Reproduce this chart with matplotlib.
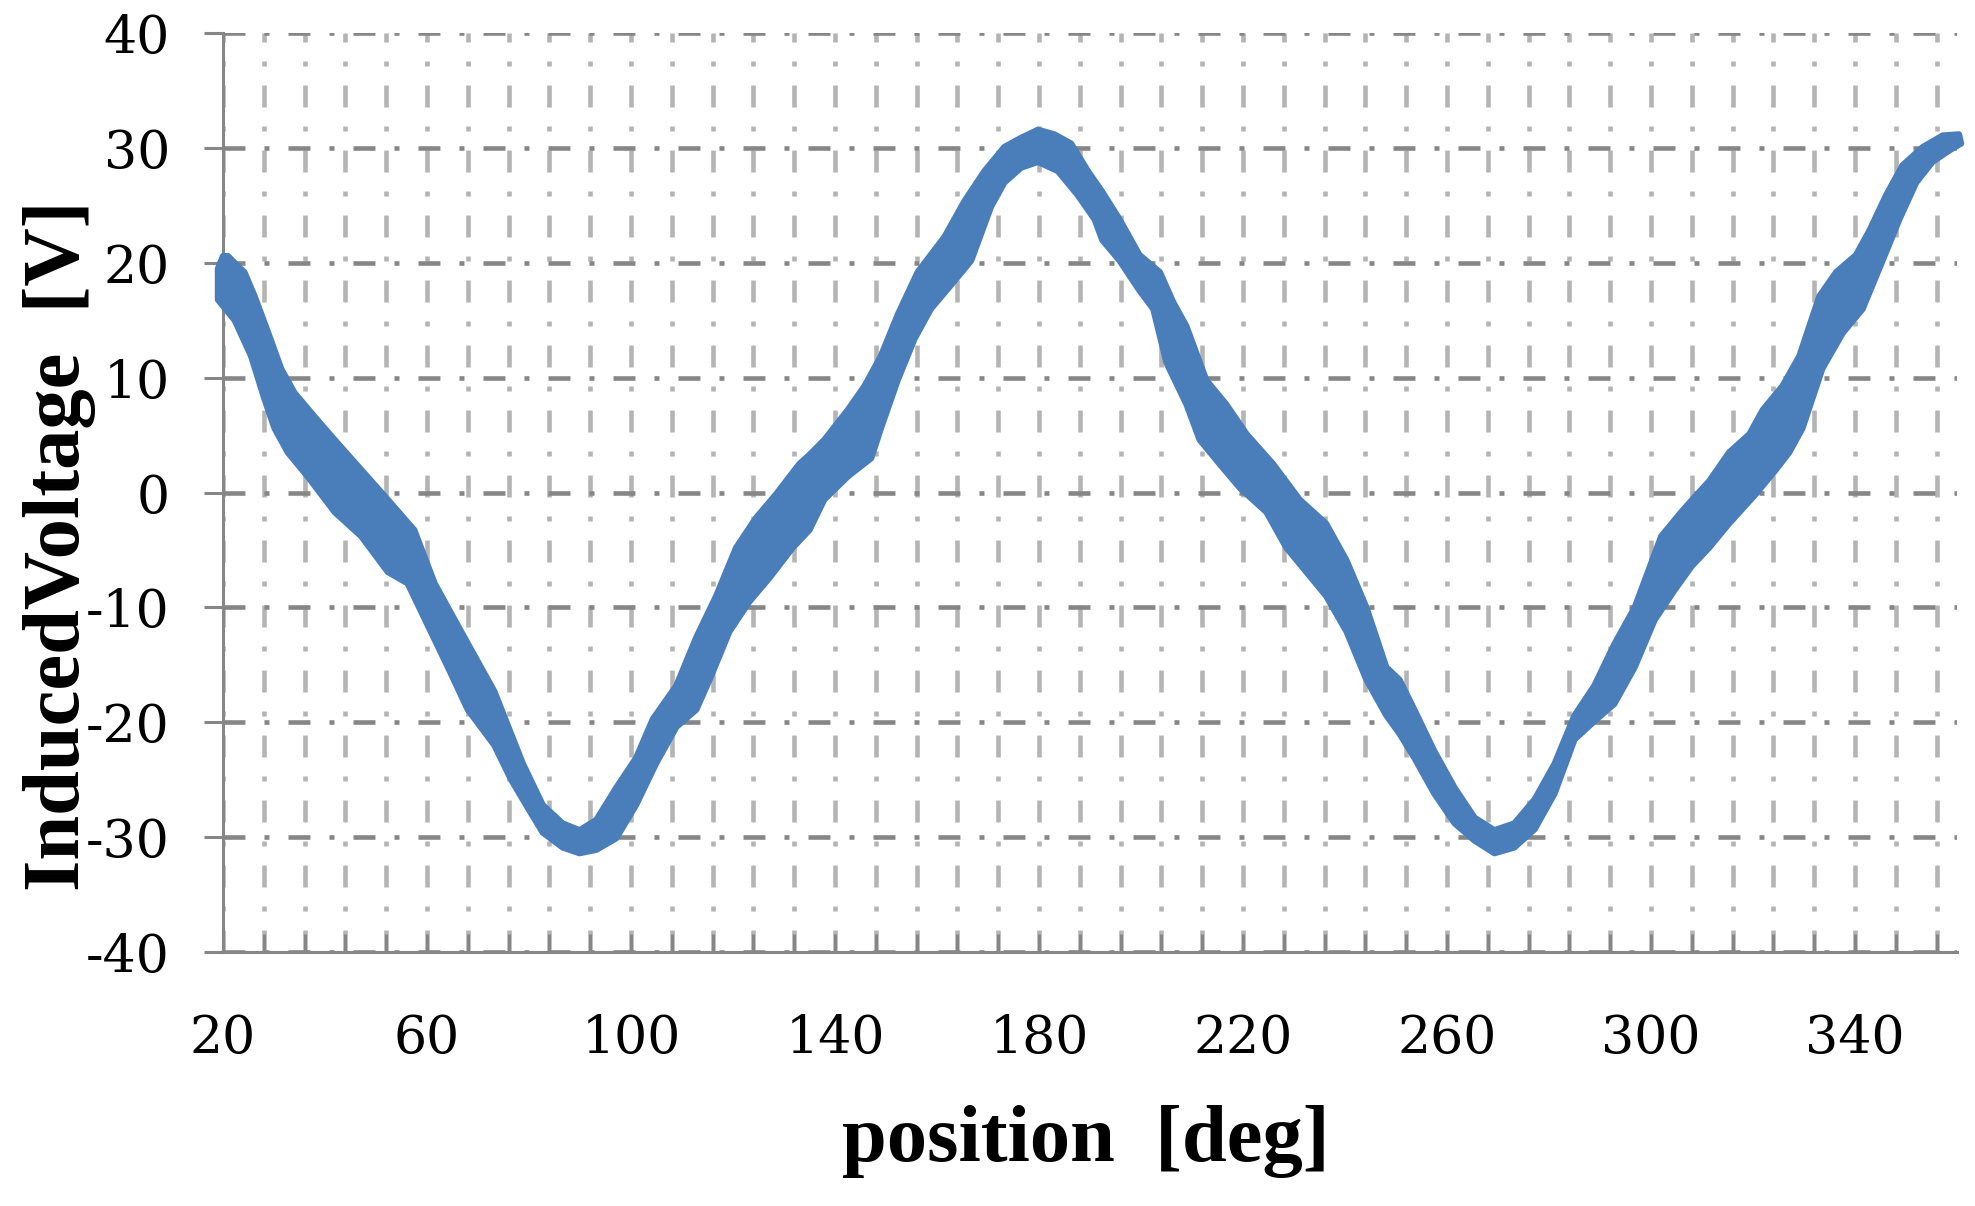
import matplotlib
matplotlib.use("Agg")
import matplotlib.pyplot as plt
from matplotlib.ticker import MultipleLocator

upper_x = [19.0, 20.0, 21.0, 22.5, 24.2, 26.2, 28.8, 31.4, 34.0, 37.9, 41.9, 47.1, 52.3,
           57.5, 61.5, 66.7, 73.2, 78.8, 82.7, 86.6, 89.9, 93.2, 97.1, 101.0, 104.3,
           108.9, 112.8, 116.7, 120.6, 124.5, 128.5, 133.0, 135.0, 137.9, 142.5, 145.8,
           149.0, 152.3, 156.2, 161.5, 165.4, 169.3, 173.2, 176.5, 179.8, 183.0, 186.3,
           189.6, 192.4, 195.8, 199.7, 203.7, 206.3, 208.9, 212.8, 216.7, 220.7, 225.9,
           231.1, 236.3, 240.3, 244.2, 248.1, 250.7, 253.6, 257.5, 261.5, 265.4, 269.3,
           273.2, 277.2, 281.1, 285.0, 288.9, 292.8, 296.8, 299.4, 302.0, 305.9, 308.5,
           311.4, 315.3, 319.3, 321.9, 325.8, 329.1, 333.0, 336.3, 340.2, 342.8, 346.1,
           349.3, 353.3, 357.2, 360.4]
upper_y = [19.5, 20.6, 20.6, 19.9, 19.2, 17.1, 14.0, 10.8, 8.7, 6.65, 4.6, 2.0, -0.6,
           -3.25, -7.9, -12.1, -17.3, -23.6, -27.2, -28.8, -29.4, -28.5, -25.7, -23.1, -19.7,
           -16.8, -12.6, -9.0, -4.8, -2.2, -0.1, 2.5, 3.3, 4.6, 7.2, 9.3,
           11.9, 15.5, 19.2, 22.3, 25.4, 28.0, 30.1, 30.9, 31.6, 31.2, 30.4,
           28.0, 26.2, 23.8, 20.7, 19.2, 16.6, 14.5, 9.8, 7.7, 5.1, 2.5,
           -0.6, -2.7, -5.9, -10.0, -15.2, -16.3, -18.9, -22.5, -25.7, -28.3, -29.4,
           -28.8, -26.7, -23.6, -19.4, -16.8, -13.2, -10.0, -6.9, -3.8, -1.7, -0.4,
           1.0, 3.5, 5.1, 7.2, 9.3, 11.9, 17.1, 19.2, 20.7, 22.8, 25.9,
           28.5, 30.1, 31.1, 31.2]

lower_x = [19.0, 22.3, 25.5, 28.1, 30.1, 32.7, 36.6, 41.9, 47.1, 52.3, 56.2, 60.2, 64.1,
           68.0, 73.2, 76.5, 80.1, 82.7, 86.6, 89.9, 93.2, 97.1, 101.0, 104.9, 108.9,
           112.8, 115.4, 119.3, 123.2, 127.2, 131.7, 135.0, 137.9, 142.5, 147.1, 149.0,
           152.3, 155.6, 158.8, 162.8, 166.7, 170.6, 173.2, 176.5, 179.8, 183.7, 187.6,
           190.9, 192.4, 195.8, 199.7, 202.4, 205.0, 208.9, 211.5, 215.4, 219.4, 224.6,
           228.5, 232.4, 236.3, 240.3, 244.2, 248.1, 250.7, 253.6, 257.5, 261.5, 265.4,
           269.3, 273.2, 277.2, 281.1, 285.0, 288.9, 292.8, 296.8, 300.7, 304.6, 308.0,
           311.4, 315.3, 320.6, 324.5, 327.1, 329.7, 333.6, 337.6, 341.5, 345.4, 348.7,
           352.0, 355.2, 358.5, 360.8]
lower_y = [16.8, 15.0, 11.9, 8.2, 5.6, 3.5, 1.4, -1.7, -3.8, -6.9, -7.9, -11.6, -15.2,
           -18.9, -22.0, -25.0, -27.7, -29.6, -30.9, -31.4, -31.1, -30.1, -27.2, -23.6, -20.4,
           -18.9, -16.3, -12.1, -9.5, -7.4, -4.8, -3.25, -0.6, 1.4, 3.0, 5.6,
           9.8, 13.4, 16.0, 18.1, 20.2, 24.9, 27.0, 28.3, 28.8, 28.0, 25.9,
           23.8, 22.0, 20.2, 17.6, 16.0, 11.3, 7.7, 4.6, 2.5, 0.4, -1.7,
           -4.8, -6.9, -9.0, -12.1, -16.3, -19.4, -21.0, -23.1, -26.2, -28.8, -30.3,
           -31.4, -30.9, -29.3, -26.2, -21.5, -19.9, -18.4, -15.2, -11.1, -8.5, -6.4,
           -4.8, -2.7, -0.1, 2.0, 3.5, 5.6, 10.8, 13.9, 16.0, 20.2, 23.8,
           27.0, 28.8, 29.8, 30.4]

x_ticks = [20, 60, 100, 140, 180, 220, 260, 300, 340]
y_ticks = [-40, -30, -20, -10, 0, 10, 20, 30, 40]
x_label = "position  [deg]"
y_label = "InducedVoltage  [V]"

# ---- styling ----
plt.rcParams["axes.unicode_minus"] = False
plt.rcParams["lines.scale_dashes"] = False
plt.rcParams["font.family"] = ["DejaVu Serif"]

W, H = 1975, 1206
fig = plt.figure(figsize=(W / 100, H / 100), dpi=100)
left, right, top, bottom = 223, 1957, 33.3, 952
ax = fig.add_axes([left / W, 1 - bottom / H, (right - left) / W, (bottom - top) / H])

blue = "#4a7ebb"
poly_x = upper_x + lower_x[::-1]
poly_y = upper_y + lower_y[::-1]
ax.fill(poly_x, poly_y, facecolor=blue, edgecolor=blue, linewidth=4.5,
        joinstyle="round", clip_on=False, zorder=3)

ax.set_xlim(20, 360)
ax.set_ylim(-40, 40)
ax.set_xticks(x_ticks)
ax.set_yticks(y_ticks)
ax.xaxis.set_minor_locator(MultipleLocator(8, offset=4))

dash = (15.8, 13.7, 3.6, 13.7)
ax.grid(which="major", axis="y", color="#868686", linewidth=3.3, dashes=dash)
ax.grid(which="both", axis="x", color="#b4b4b4", linewidth=3.3, dashes=dash)
ax.set_axisbelow(True)

for s in ["top", "right"]:
    ax.spines[s].set_visible(False)
for s in ["left", "bottom"]:
    ax.spines[s].set_color("#868686")
    ax.spines[s].set_linewidth(2.2)

ax.tick_params(axis="x", which="both", direction="in", length=13, width=2.2,
               color="#868686", pad=44, labelsize=37.5, labelcolor="black")
ax.tick_params(axis="y", which="major", direction="out", length=13.7, width=2.2,
               color="#868686", pad=24.5, labelsize=37.5, labelcolor="black")

ax.set_xlabel(x_label, fontsize=58, fontweight="bold", fontfamily="Liberation Serif")
ax.xaxis.set_label_coords(0.4977, -0.1665)
ax.set_ylabel(y_label, fontsize=58, fontweight="bold", fontfamily="Liberation Serif")
ax.yaxis.set_label_coords(-0.0735, 0.442)

fig.savefig("out.png", dpi=100)
